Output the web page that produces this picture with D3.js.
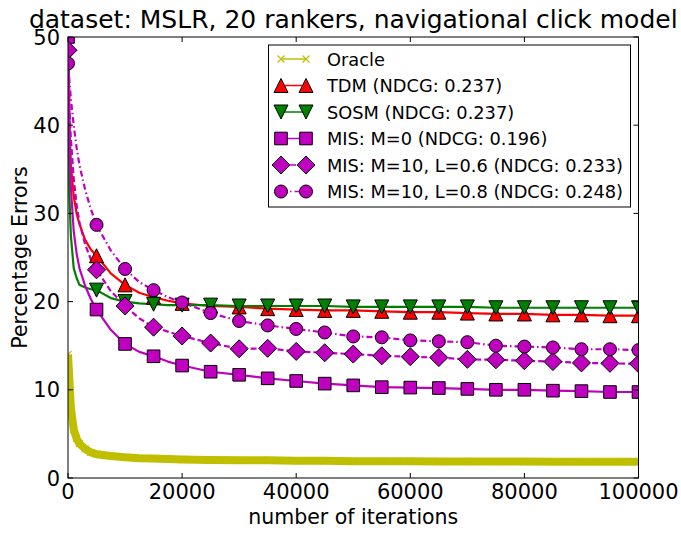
<!DOCTYPE html>
<html>
<head>
<meta charset="utf-8">
<script src="https://cdn.jsdelivr.net/npm/d3@7"></script>
<style>
body { margin: 0; background: #fff; }
text { font-family: "DejaVu Sans", sans-serif; fill: #000; }
</style>
</head>
<body>
<svg id="chart" width="681" height="533"></svg>
<script>
var iterations = [0, 250, 500, 1000, 1500, 2000, 3000, 4000, 5000, 7500, 10000, 12500, 15000, 17500, 20000,
    25000, 30000, 35000, 40000, 45000, 50000, 55000, 60000, 65000, 70000, 75000, 80000, 85000, 90000, 95000, 100000];

var oracle = [14, 11, 8, 5.5, 4.5, 3.9, 3.3, 2.9, 2.7, 2.5, 2.35, 2.25, 2.2, 2.15, 2.1,
    2.05, 2.0, 2.0, 1.95, 1.95, 1.9, 1.9, 1.9, 1.88, 1.88, 1.86, 1.86, 1.85, 1.85, 1.85, 1.85];
var tdm = [55, 40, 35.5, 32, 30, 28.8, 27, 25.9, 25.2, 23.2, 21.9, 21.0, 20.5, 20.1, 19.8,
    19.5, 19.4, 19.2, 19.1, 19.0, 19.0, 18.9, 18.8, 18.8, 18.7, 18.6, 18.6, 18.5, 18.5, 18.4, 18.4];
var sosm = [55, 32, 27.5, 23.8, 22.7, 21.9, 21.6, 21.4, 21.3, 20.4, 20.0, 19.8, 19.7, 19.6, 19.6,
    19.6, 19.5, 19.5, 19.5, 19.5, 19.4, 19.4, 19.4, 19.4, 19.4, 19.3, 19.3, 19.3, 19.3, 19.3, 19.3];
var misM0 = [50, 40, 33, 28, 25.5, 23.8, 21.8, 20.3, 19.1, 16.8, 15.2, 14.3, 13.8, 13.2, 12.75,
    12.05, 11.7, 11.3, 11.0, 10.7, 10.5, 10.3, 10.25, 10.2, 10.1, 10.0, 10.0, 9.9, 9.85, 9.75, 9.75];
var misL06 = [48.5, 42, 38.5, 34, 31, 29, 26.5, 24.8, 23.6, 21.2, 19.5, 18.1, 17.1, 16.6, 16.1,
    15.3, 14.65, 14.7, 14.35, 14.2, 14.05, 13.85, 13.75, 13.65, 13.45, 13.4, 13.3, 13.2, 13.05, 13.0, 12.95];
var misL08 = [47, 45, 43, 40, 37.5, 35.5, 32.7, 30.5, 28.7, 25.8, 23.7, 22.2, 21.3, 20.5, 19.9,
    18.7, 17.8, 17.3, 16.9, 16.5, 16.05, 15.95, 15.6, 15.5, 15.4, 15.0, 14.9, 14.8, 14.6, 14.6, 14.5];

var xTicks = [0, 20000, 40000, 60000, 80000, 100000];
var yTicks = [0, 10, 20, 30, 40, 50];

var series = [
    {name: "Oracle", values: oracle, color: "#bfbf00", marker: "x", dash: null, width: 8},
    {name: "TDM (NDCG: 0.237)", values: tdm, color: "#ff0000", marker: "tri-up", dash: null, width: 2.2},
    {name: "SOSM (NDCG: 0.237)", values: sosm, color: "#008000", marker: "tri-down", dash: null, width: 2.2},
    {name: "MIS: M=0 (NDCG: 0.196)", values: misM0, color: "#bf00bf", marker: "square", dash: null, width: 2.2},
    {name: "MIS: M=10, L=0.6 (NDCG: 0.233)", values: misL06, color: "#bf00bf", marker: "diamond", dash: "6,3", width: 2.2},
    {name: "MIS: M=10, L=0.8 (NDCG: 0.248)", values: misL08, color: "#bf00bf", marker: "circle", dash: "6,3,1.5,3", width: 2.2}
];

var margin = {left: 68, right: 42.5, top: 37, bottom: 55};
var svg = d3.select("#chart");
var W = 681, H = 533;
var x = d3.scaleLinear().domain([0, 100000]).range([margin.left, W - margin.right]);
var y = d3.scaleLinear().domain([0, 50]).range([H - margin.bottom, margin.top]);

svg.append("defs").append("clipPath").attr("id", "plotclip")
    .append("rect")
    .attr("x", x(0)).attr("y", y(50))
    .attr("width", x(100000) - x(0)).attr("height", y(0) - y(50));

function markerPath(type) {
    if (type === "tri-up") return "M0,-7L7,7L-7,7Z";
    if (type === "tri-down") return "M0,7L7,-7L-7,-7Z";
    if (type === "square") return "M-6.3,-6.3H6.3V6.3H-6.3Z";
    if (type === "diamond") return "M0,-9L9,0L0,9L-9,0Z";
    if (type === "circle") return "M6.5,0A6.5,6.5 0 1,1 -6.5,0A6.5,6.5 0 1,1 6.5,0Z";
    return "M-3.5,-3.5L3.5,3.5M-3.5,3.5L3.5,-3.5";
}

function drawMarker(g, type, color, px, py) {
    var p = g.append("path").attr("d", markerPath(type))
        .attr("transform", "translate(" + px + "," + py + ")");
    if (type === "x") {
        p.attr("fill", "none").attr("stroke", color).attr("stroke-width", 1.2);
    } else {
        p.attr("fill", color).attr("stroke", "#000").attr("stroke-width", 1);
    }
}

var plot = svg.append("g").attr("clip-path", "url(#plotclip)");

var line = d3.line()
    .x(function(d, i) { return x(iterations[i]); })
    .y(function(d) { return y(d); });

series.forEach(function(s) {
    plot.append("path")
        .datum(s.values)
        .attr("fill", "none")
        .attr("stroke", s.color)
        .attr("stroke-width", s.width)
        .attr("stroke-linejoin", "round")
        .attr("stroke-dasharray", s.dash)
        .attr("d", line);
});

series.forEach(function(s) {
    var mg = plot.append("g");
    s.values.forEach(function(v, i) {
        var it = iterations[i];
        if (s.marker === "x" || it % 5000 === 0) {
            drawMarker(mg, s.marker, s.color, x(it), y(v));
        }
    });
});

// frame and inward ticks on all four sides
var frame = svg.append("g");
frame.append("rect")
    .attr("x", x(0)).attr("y", y(50))
    .attr("width", x(100000) - x(0)).attr("height", y(0) - y(50))
    .attr("fill", "none").attr("stroke", "#000").attr("stroke-width", 1);

xTicks.forEach(function(t) {
    frame.append("line").attr("x1", x(t)).attr("x2", x(t)).attr("y1", y(0)).attr("y2", y(0) - 5).attr("stroke", "#000");
    frame.append("line").attr("x1", x(t)).attr("x2", x(t)).attr("y1", y(50)).attr("y2", y(50) + 5).attr("stroke", "#000");
    svg.append("text").attr("x", x(t)).attr("y", y(0) + 21)
        .attr("text-anchor", "middle").attr("font-size", 21).text(t);
});
yTicks.forEach(function(t) {
    frame.append("line").attr("x1", x(0)).attr("x2", x(0) + 5).attr("y1", y(t)).attr("y2", y(t)).attr("stroke", "#000");
    frame.append("line").attr("x1", x(100000)).attr("x2", x(100000) - 5).attr("y1", y(t)).attr("y2", y(t)).attr("stroke", "#000");
    svg.append("text").attr("x", x(0) - 8).attr("y", y(t) + 7.5)
        .attr("text-anchor", "end").attr("font-size", 21).text(t);
});

svg.append("text").attr("x", (x(0) + x(100000)) / 2).attr("y", 524)
    .attr("text-anchor", "middle").attr("font-size", 20.5).text("number of iterations");
svg.append("text")
    .attr("transform", "translate(27," + (y(0) + y(50)) / 2 + ") rotate(-90)")
    .attr("text-anchor", "middle").attr("font-size", 20.5).text("Percentage Errors");
svg.append("text").attr("x", (x(0) + x(100000)) / 2).attr("y", 28)
    .attr("text-anchor", "middle").attr("font-size", 25).text("dataset: MSLR, 20 rankers, navigational click model");

// legend
var legend = svg.append("g");
legend.append("rect").attr("x", 268.5).attr("y", 45).attr("width", 362).attr("height", 162)
    .attr("fill", "#fff").attr("stroke", "#000").attr("stroke-width", 1);
series.forEach(function(s, i) {
    var ly = 59 + i * 26.5;
    legend.append("line").attr("x1", 281).attr("x2", 306).attr("y1", ly).attr("y2", ly)
        .attr("stroke", s.color).attr("stroke-width", 1.5)
        .attr("stroke-dasharray", s.dash);
    drawMarker(legend, s.marker, s.color, 281, ly);
    drawMarker(legend, s.marker, s.color, 306, ly);
    legend.append("text").attr("x", 327).attr("y", ly + 6.5).attr("font-size", 17.8).text(s.name);
});
</script>
</body>
</html>
